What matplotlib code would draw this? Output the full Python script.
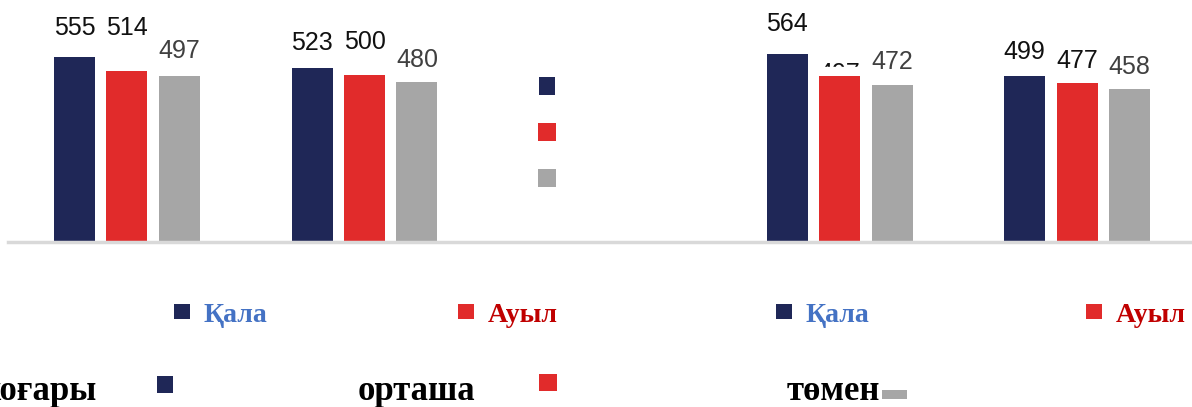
import numpy as np
import matplotlib
matplotlib.use("Agg")
import matplotlib.pyplot as plt
from matplotlib.patches import Rectangle

# data (slot 2 is the empty gap between the two halves)
groups = ["A", "B", "", "C", "D"]
high = [555, 523, np.nan, 564, 499]
mid = [514, 500, np.nan, 497, 477]
low = [497, 480, np.nan, 472, 458]

series_names = ["жоғары", "орташа", "төмен"]
colors = ["#1f2757", "#e12b2b", "#a6a6a6"]

# label offsets above bar tops, in pixels (hand placed in the original)
label_offsets = [
    [29, 25, 0, 30, 24],
    [43, 33, 0, 2, 22],
    [25, 22, 0, 23, 22],
]
label_colors = ["#111111", "#111111", "#404040"]

W, H = 1192, 407


def fx(x):
    return x / W


def fy(y):
    return 1 - y / H


fig = plt.figure(figsize=(W / 100, H / 100), dpi=100)
ax = fig.add_axes([fx(8), fy(242), (W - 8) / W, 242 / H])
ax.set_ylim(0, 726)
ax.set_xlim(-0.501, 4.484)
ax.axis("off")

x = np.arange(len(groups))
bar_w = 0.1726
step = 0.221

for k, vals in enumerate([high, mid, low]):
    pos = x + (k - 1) * step
    ax.bar(pos, vals, width=bar_w, color=colors[k], zorder=3)
    for i, v in enumerate(vals):
        if np.isnan(v):
            continue
        ax.annotate(str(int(v)), (pos[i], v), xytext=(0, label_offsets[k][i]),
                    textcoords="offset pixels", ha="center", va="center",
                    fontsize=18, family=["Liberation Sans", "DejaVu Sans"],
                    color=label_colors[k], zorder=1)

# the hidden label in the original is mostly covered by a white patch
ax.add_patch(Rectangle((x[3] - bar_w / 2 - 0.02, mid[3]), bar_w + 0.04, 27,
                       color="white", zorder=2))

ax.axhline(0, color="#d9d9d9", lw=2.5, clip_on=False, zorder=4)


def square(x0, y0, x1, y1, color):
    fig.add_artist(Rectangle((fx(x0), fy(y1)), (x1 - x0) / W, (y1 - y0) / H,
                             transform=fig.transFigure, color=color, lw=0))


# middle legend squares
square(539, 77, 555, 95, colors[0])
square(538, 123, 556, 141, colors[1])
square(538, 169, 556, 187, colors[2])

serif = ["Liberation Serif", "DejaVu Serif"]

# Қала / Ауыл legend row
for mx, tx, label, c, tc in [(174, 204, "Қала", colors[0], "#4472c4"),
                             (458, 488, "Ауыл", colors[1], "#c00000"),
                             (776, 806, "Қала", colors[0], "#4472c4"),
                             (1086, 1116, "Ауыл", colors[1], "#c00000")]:
    square(mx, 304, mx + 16, 319, c)
    fig.text(fx(tx), fy(322), label, ha="left", va="baseline", fontsize=20,
             family=serif, weight="bold", color=tc)

# bottom row
fig.text(fx(97), fy(400), series_names[0], ha="right", va="baseline",
         fontsize=25, family=serif, weight="bold", color="black")
square(157, 376, 173, 393, colors[0])
fig.text(fx(358), fy(400), series_names[1], ha="left", va="baseline",
         fontsize=25, family=serif, weight="bold", color="black")
square(539, 374, 557, 391, colors[1])
fig.text(fx(787), fy(400), series_names[2], ha="left", va="baseline",
         fontsize=25, family=serif, weight="bold", color="black")
square(882, 390, 907, 399, colors[2])

fig.savefig("out.png", dpi=100)
